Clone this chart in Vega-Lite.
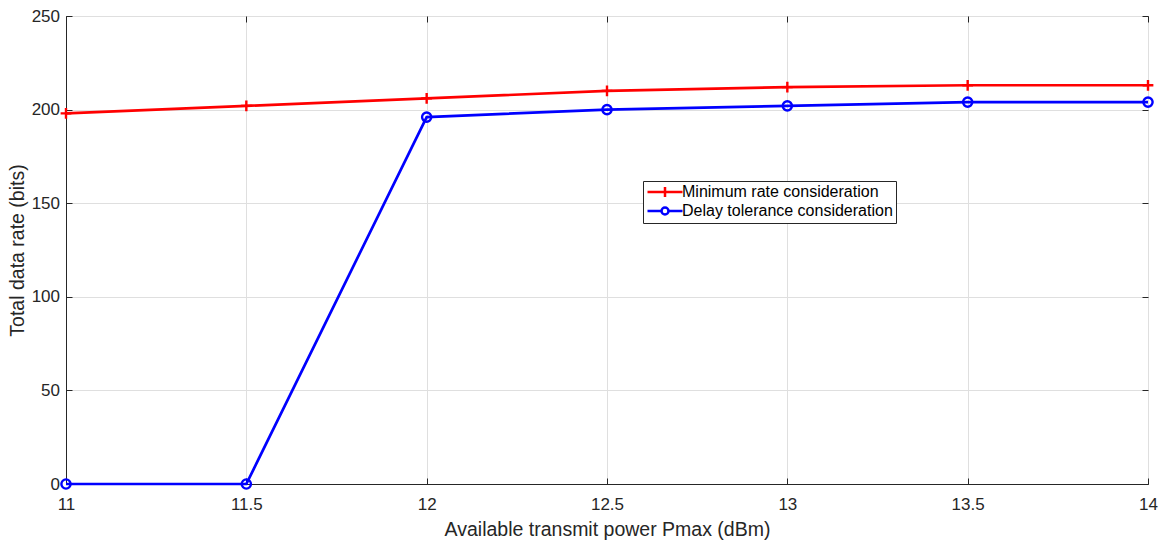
{
  "$schema": "https://vega.github.io/schema/vega-lite/v6.json",
  "width": 1082,
  "height": 468,
  "autosize": {"type": "none"},
  "padding": {"left": 66, "top": 16, "right": 15, "bottom": 57},
  "background": "white",
  "config": {
    "font": "Liberation Sans",
    "view": {"stroke": "#262626", "strokeWidth": 1},
    "axis": {
      "labelFont": "Liberation Sans",
      "titleFont": "Liberation Sans",
      "labelColor": "#262626",
      "titleColor": "#262626",
      "labelFontSize": 17,
      "titleFontSize": 19.5,
      "titleFontWeight": "normal",
      "domainColor": "#262626",
      "tickColor": "#262626",
      "gridColor": "#dfdfdf",
      "gridWidth": 1
    }
  },
  "data": {
    "values": [
      {"x": 11, "rate": 198, "series": "Minimum rate consideration"},
      {"x": 11.5, "rate": 202, "series": "Minimum rate consideration"},
      {"x": 12, "rate": 206, "series": "Minimum rate consideration"},
      {"x": 12.5, "rate": 210, "series": "Minimum rate consideration"},
      {"x": 13, "rate": 212, "series": "Minimum rate consideration"},
      {"x": 13.5, "rate": 213, "series": "Minimum rate consideration"},
      {"x": 14, "rate": 213, "series": "Minimum rate consideration"},
      {"x": 11, "rate": 0, "series": "Delay tolerance consideration"},
      {"x": 11.5, "rate": 0, "series": "Delay tolerance consideration"},
      {"x": 12, "rate": 196, "series": "Delay tolerance consideration"},
      {"x": 12.5, "rate": 200, "series": "Delay tolerance consideration"},
      {"x": 13, "rate": 202, "series": "Delay tolerance consideration"},
      {"x": 13.5, "rate": 204, "series": "Delay tolerance consideration"},
      {"x": 14, "rate": 204, "series": "Delay tolerance consideration"}
    ]
  },
  "resolve": {"axis": {"x": "independent", "y": "independent"}},
  "layer": [
    {
      "mark": {"type": "line", "strokeWidth": 2.7},
      "encoding": {
        "x": {
          "field": "x", "type": "quantitative",
          "scale": {"domain": [11, 14], "nice": false, "zero": false},
          "axis": {
            "values": [11, 11.5, 12, 12.5, 13, 13.5, 14],
            "format": "~g",
            "title": "Available transmit power Pmax (dBm)",
            "ticks": false, "labelPadding": 12, "titlePadding": 8,
            "labelFlush": false, "labelOverlap": false
          }
        },
        "y": {
          "field": "rate", "type": "quantitative",
          "scale": {"domain": [0, 250], "nice": false},
          "axis": {
            "values": [0, 50, 100, 150, 200, 250],
            "title": "Total data rate (bits)",
            "ticks": false, "labelPadding": 6.5, "titlePadding": 3.5,
            "labelFlush": false, "labelOverlap": false, "labelBound": false
          }
        },
        "color": {
          "field": "series", "type": "nominal",
          "scale": {"domain": ["Minimum rate consideration", "Delay tolerance consideration"], "range": ["#ff0000", "#0000ff"]},
          "legend": {
            "title": null,
            "orient": "none",
            "legendX": 577,
            "legendY": 165,
            "direction": "vertical",
            "fillColor": "white",
            "strokeColor": "#262626",
            "padding": 3,
            "rowPadding": 0,
            "labelFont": "Liberation Sans",
            "labelFontSize": 16,
            "labelColor": "#000000",
            "labelLimit": 0,
            "labelExpr": "datum.label + '\u00a0\u00a0'",
            "symbolSize": 100,
            "symbolStrokeWidth": 2.5,
            "symbolOffset": 11,
            "labelOffset": 9,
            "encoding": {
              "symbols": {
                "shape": {"value": {"expr": "datum.value === 'Minimum rate consideration' ? 'M-3.5,0H3.5M0,-1V1' : 'M-3.5,0H-0.7M0.7,0H3.5M0.7,0A0.7,0.7 0 1,1 -0.7,0A0.7,0.7 0 1,1 0.7,0'"}},
                "fill": {"value": "transparent"}
              }
            }
          }
        }
      }
    },
    {
      "transform": [{"filter": "datum.series === 'Minimum rate consideration'"}],
      "mark": {"type": "point", "filled": false, "strokeWidth": 2.4, "size": 80, "opacity": 1, "shape": "M-1.2,0H1.2M0,-1.2V1.2"},
      "encoding": {
        "x": {
          "field": "x", "type": "quantitative",
          "scale": {"domain": [11, 14], "nice": false, "zero": false},
          "axis": {"orient": "top", "values": [11, 11.5, 12, 12.5, 13, 13.5, 14], "labels": false, "title": null, "grid": false, "domain": false, "tickSize": -6}
        },
        "y": {
          "field": "rate", "type": "quantitative",
          "scale": {"domain": [0, 250], "nice": false},
          "axis": {"orient": "right", "values": [0, 50, 100, 150, 200, 250], "labels": false, "title": null, "grid": false, "domain": false, "tickSize": -6}
        },
        "color": {"field": "series", "type": "nominal", "legend": null}
      }
    },
    {
      "transform": [{"filter": "datum.series === 'Delay tolerance consideration'"}],
      "mark": {"type": "point", "filled": false, "strokeWidth": 2.4, "size": 85, "opacity": 1, "shape": "circle"},
      "encoding": {
        "x": {
          "field": "x", "type": "quantitative",
          "axis": {"orient": "bottom", "values": [11, 11.5, 12, 12.5, 13, 13.5, 14], "labels": false, "title": null, "grid": false, "domain": false, "tickSize": -6}
        },
        "y": {
          "field": "rate", "type": "quantitative",
          "axis": {"orient": "left", "values": [0, 50, 100, 150, 200, 250], "labels": false, "title": null, "grid": false, "domain": false, "tickSize": -6}
        },
        "color": {"field": "series", "type": "nominal", "legend": null}
      }
    }
  ]
}
